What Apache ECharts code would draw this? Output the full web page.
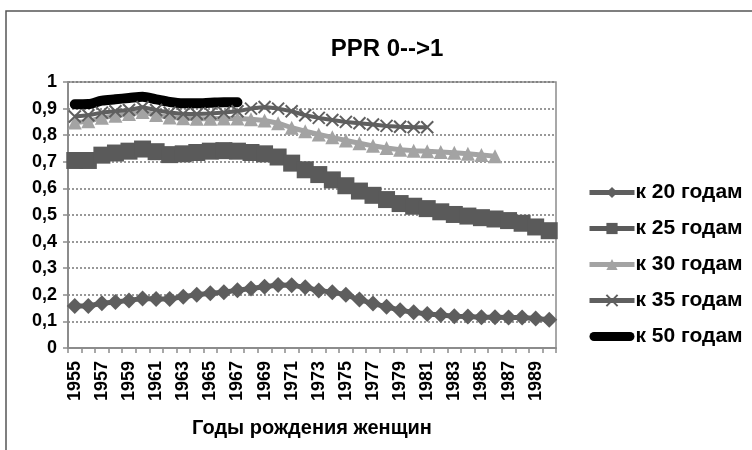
<!DOCTYPE html>
<html>
<head>
<meta charset="utf-8">
<script src="https://cdn.jsdelivr.net/npm/echarts@6/dist/echarts.min.js"></script>
<style>
  html, body { margin: 0; padding: 0; background: #fff; }
  #chart { width: 752px; height: 450px; }
</style>
</head>
<body>
<div id="chart"></div>
<script>
// годы рождения
var years = []
for (var y = 1955; y <= 1990; y++) years.push(String(y))

var by20 = [0.158, 0.158, 0.168, 0.173, 0.179, 0.186, 0.184, 0.184, 0.193, 0.2, 0.206, 0.21, 0.217, 0.224, 0.23, 0.237, 0.236, 0.228, 0.216, 0.21, 0.2, 0.182, 0.167, 0.155, 0.142, 0.134, 0.128, 0.124, 0.119, 0.118, 0.116, 0.116, 0.115, 0.115, 0.111, 0.106]
var by25 = [0.705, 0.705, 0.725, 0.733, 0.74, 0.748, 0.738, 0.727, 0.73, 0.735, 0.74, 0.742, 0.74, 0.735, 0.73, 0.718, 0.695, 0.67, 0.652, 0.632, 0.61, 0.59, 0.574, 0.558, 0.543, 0.533, 0.524, 0.512, 0.502, 0.496, 0.49, 0.485, 0.479, 0.469, 0.455, 0.441]
var by30 = [0.848, 0.852, 0.866, 0.873, 0.88, 0.887, 0.876, 0.867, 0.864, 0.862, 0.862, 0.863, 0.863, 0.86, 0.855, 0.845, 0.828, 0.815, 0.803, 0.792, 0.78, 0.77, 0.76, 0.752, 0.745, 0.742, 0.74, 0.737, 0.734, 0.73, 0.726, 0.721]
var by35 = [0.87, 0.875, 0.885, 0.89, 0.895, 0.905, 0.895, 0.885, 0.88, 0.88, 0.882, 0.885, 0.89, 0.9, 0.906, 0.9, 0.89, 0.875, 0.865, 0.857, 0.85, 0.845, 0.84, 0.835, 0.832, 0.83, 0.83]
var by50 = [0.916, 0.917, 0.93, 0.935, 0.94, 0.945, 0.935, 0.925, 0.92, 0.92, 0.922, 0.924, 0.924]

var names = ['к 20 годам', 'к 25 годам', 'к 30 годам', 'к 35 годам', 'к 50 годам']
var yTicks = [0, 0.1, 0.2, 0.3, 0.4, 0.5, 0.6, 0.7, 0.8, 0.9, 1]

var font = '"Liberation Sans", Arial, sans-serif'
var crossPath = 'path://M0 0L10 10M10 0L0 10'

var chart = echarts.init(document.getElementById('chart'), null, { renderer: 'canvas' })

chart.setOption({
  animation: false,
  backgroundColor: '#fff',
  graphic: [{
    type: 'rect',
    shape: { x: 6, y: 11, width: 800, height: 500 },
    style: { fill: 'none', stroke: '#555', lineWidth: 1.5 },
    silent: true
  }],
  title: {
    text: 'PPR 0-->1',
    left: 382,
    top: 32,
    textAlign: 'center',
    textStyle: { fontFamily: font, fontSize: 24, fontWeight: 'bold', color: '#000' }
  },
  grid: {
    left: 68,
    right: 196,
    top: 82,
    bottom: 102,
    show: true,
    borderColor: '#8c8c8c',
    borderWidth: 1.5
  },
  legend: {
    orient: 'vertical',
    left: 587,
    top: 182,
    padding: 0,
    itemWidth: 45,
    itemHeight: 14,
    itemGap: 15,
    symbolKeepAspect: true,
    data: [
      { name: names[0], lineStyle: { width: 5 } },
      { name: names[1], lineStyle: { width: 5 } },
      { name: names[2], lineStyle: { width: 5 } },
      { name: names[3], lineStyle: { width: 5 } },
      { name: names[4], icon: 'path://M4.5 0L40.5 0A4.5 4.5 0 0 1 40.5 9L4.5 9A4.5 4.5 0 0 1 4.5 0Z', itemStyle: { color: '#000' } }
    ],
    textStyle: { fontFamily: font, fontSize: 21, fontWeight: 'bold', color: '#000', padding: [0, 0, 0, -4] }
  },
  xAxis: {
    type: 'category',
    data: years,
    boundaryGap: true,
    name: 'Годы рождения женщин',
    nameLocation: 'middle',
    nameGap: 70,
    nameTextStyle: { fontFamily: font, fontSize: 20, fontWeight: 'bold', color: '#000' },
    axisLine: { lineStyle: { color: '#8c8c8c', width: 2 } },
    axisTick: { show: true, interval: 0, length: 5, lineStyle: { color: '#8c8c8c', width: 1.5 } },
    axisLabel: {
      interval: 1,
      rotate: 90,
      margin: 13,
      fontFamily: font,
      fontSize: 18,
      fontWeight: 'bold',
      color: '#000'
    },
    splitLine: { show: false }
  },
  yAxis: {
    type: 'value',
    min: 0,
    max: 1,
    interval: 0.1,
    axisLine: { show: true, lineStyle: { color: '#8c8c8c', width: 2 } },
    axisTick: { show: true, length: 5, lineStyle: { color: '#8c8c8c', width: 1.5 } },
    axisLabel: {
      margin: 11,
      fontFamily: font,
      fontSize: 18,
      fontWeight: 'bold',
      color: '#000',
      formatter: function (v) {
        var t = yTicks.find(function (k) { return Math.abs(k - v) < 1e-6 })
        if (t === 0 || t === 1) return String(t)
        return v.toFixed(1).replace('.', ',')
      }
    },
    splitLine: { show: true, lineStyle: { color: '#777', type: [2, 2], width: 1.5 } }
  },
  series: [
    {
      name: names[0],
      type: 'line',
      data: by20,
      showAllSymbol: true,
      symbol: 'diamond',
      symbolSize: [16, 16],
      itemStyle: { color: '#5e5e5e' },
      lineStyle: { color: '#5e5e5e', width: 5 }
    },
    {
      name: names[1],
      type: 'line',
      data: by25,
      showAllSymbol: true,
      symbol: 'rect',
      symbolSize: 17,
      itemStyle: { color: '#5a5a5a' },
      lineStyle: { color: '#5a5a5a', width: 5 }
    },
    {
      name: names[2],
      type: 'line',
      data: by30,
      showAllSymbol: true,
      symbol: 'triangle',
      symbolSize: [14, 14],
      itemStyle: { color: '#a3a3a3' },
      lineStyle: { color: '#a3a3a3', width: 5 }
    },
    {
      name: names[3],
      type: 'line',
      data: by35,
      showAllSymbol: true,
      symbol: crossPath,
      symbolSize: 12,
      itemStyle: { color: '#5f5f5f', borderColor: '#5f5f5f', borderWidth: 2 },
      lineStyle: { color: '#5f5f5f', width: 4 }
    },
    {
      name: names[4],
      type: 'line',
      data: by50,
      smooth: 0.3,
      symbol: 'none',
      itemStyle: { color: '#000' },
      lineStyle: { color: '#000', width: 10, cap: 'round' }
    }
  ]
})
</script>
</body>
</html>
